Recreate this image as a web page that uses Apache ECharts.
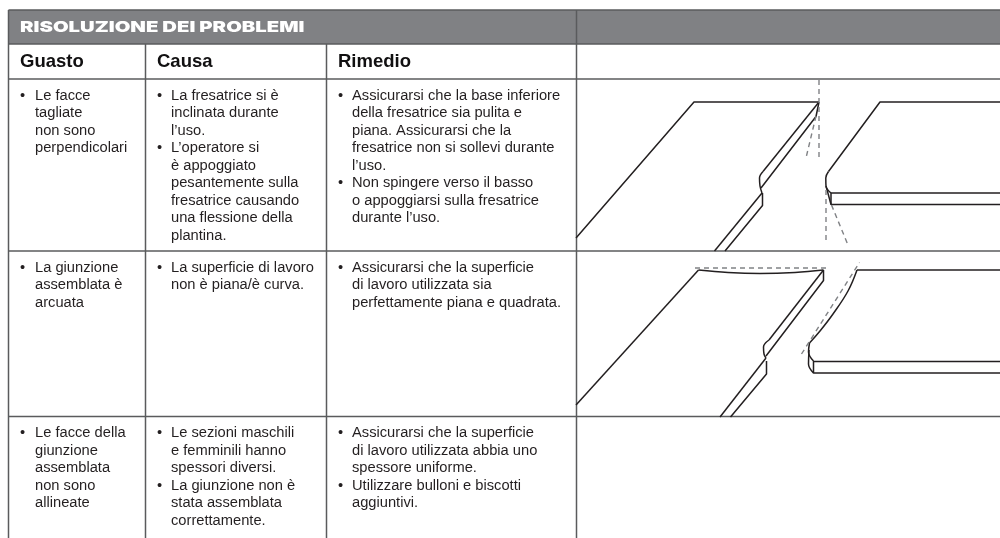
<!DOCTYPE html>
<html>
<head>
<meta charset="utf-8">
<style>
  html, body { margin: 0; padding: 0; background: #fff; }
  #main { width: 1000px; height: 538px; }
</style>
<script src="https://cdn.jsdelivr.net/npm/echarts@6/dist/echarts.min.js"></script>
</head>
<body>
<div id="main"></div>
<script>
// table text
const title = "RISOLUZIONE DEI PROBLEMI";
const headers = ["Guasto", "Causa", "Rimedio"];
const guasto = [
  ["* Le facce", "tagliate", "non sono", "perpendicolari"],
  ["* La giunzione", "assemblata è", "arcuata"],
  ["* Le facce della", "giunzione", "assemblata", "non sono", "allineate"]
];
const causa = [
  ["* La fresatrice si è", "inclinata durante", "l’uso.", "* L’operatore si", "è appoggiato", "pesantemente sulla", "fresatrice causando", "una flessione della", "plantina."],
  ["* La superficie di lavoro", "non è piana/è curva."],
  ["* Le sezioni maschili", "e femminili hanno", "spessori diversi.", "* La giunzione non è", "stata assemblata", "correttamente."]
];
const rimedio = [
  ["* Assicurarsi che la base inferiore", "della fresatrice sia pulita e", "piana. Assicurarsi che la", "fresatrice non si sollevi durante", "l’uso.", "* Non spingere verso il basso", "o appoggiarsi sulla fresatrice", "durante l’uso."],
  ["* Assicurarsi che la superficie", "di lavoro utilizzata sia", "perfettamente piana e quadrata."],
  ["* Assicurarsi che la superficie", "di lavoro utilizzata abbia uno", "spessore uniforme.", "* Utilizzare bulloni e biscotti", "aggiuntivi."]
];

// table geometry
const columnEdges = [8.5, 145.5, 326.5, 576.5];
const rowEdges = [10, 44, 79, 251, 416.5];
const pageEdges = [1000, 538];

// diagram 1, top row
const d1LeftFace = [[576, 238], [694, 102], [819, 102]];
const d1LeftEdgeA = [[819, 102], [763, 171.5]];
const d1LeftCurveA = [[763, 171.5], [759.5, 178], [760, 186], [762, 193]];
const d1LeftEdgeB = [[762, 193], [714.5, 251]];
const d1LeftEdgeC = [[819, 102], [816, 116.5], [761, 188]];
const d1LeftEdgeD = [[762.5, 193], [762.5, 205.5], [725, 251]];
const d1RightFace = [[1000, 102], [880, 102], [828.5, 171.5]];
const d1RightCurve = [[828.5, 171.5], [825.8, 178], [826, 186], [831, 193]];
const d1RightLip = [[1000, 193], [831, 193], [831, 204.5], [1000, 204.5]];
const d1RightLipSide = [[826, 186], [831, 204.5]];
const d1GuideA = [[819, 80], [819, 159]];
const d1GuideB = [[816, 116], [806, 158]];
const d1GuideC = [[826, 190], [826, 244]];
const d1GuideD = [[831.5, 205], [848, 245]];

// diagram 2, middle row
const d2LeftFace = [[576, 405], [698.5, 270]];
const d2LeftBow = [[698.5, 270], [728, 272.5], [760, 273.5], [795, 272.5], [823.5, 270]];
const d2LeftEdgeA = [[823.5, 270], [769, 340]];
const d2LeftCurveA = [[769, 340], [763.5, 347], [764, 354], [766, 358]];
const d2LeftEdgeB = [[766, 358], [720, 417]];
const d2LeftEdgeC = [[823.5, 270], [823.5, 280.5], [766, 356]];
const d2LeftEdgeD = [[766.5, 361], [766.5, 374], [730.5, 417]];
const d2RightFace = [[1000, 270], [857, 270]];
const d2RightCurve = [[857, 270], [848, 291], [833, 314], [820, 331], [809.5, 343]];
const d2RightSide = [[809.5, 343], [808.5, 352], [813.5, 361]];
const d2RightLip = [[1000, 361.5], [813.5, 361.5], [813.5, 373], [1000, 373]];
const d2RightLipSide = [[809, 350], [808.5, 364], [813.5, 373]];
const d2GuideA = [[695, 268], [827, 268]];
const d2GuideB = [[801.5, 354], [859.5, 262.5]];

const solidLines = [d1LeftFace, d1LeftEdgeA, d1LeftEdgeB, d1LeftEdgeC, d1LeftEdgeD, d1RightFace, d1RightLip, d1RightLipSide,
  d2LeftFace, d2LeftEdgeA, d2LeftEdgeB, d2LeftEdgeC, d2LeftEdgeD, d2RightFace, d2RightLip];
const curvedLines = [d1LeftCurveA, d1RightCurve, d2LeftBow, d2LeftCurveA, d2RightCurve, d2RightSide, d2RightLipSide];
const guideLines = [d1GuideA, d1GuideB, d1GuideC, d1GuideD, d2GuideA, d2GuideB];

const lineGap = 17.55;
const bodyFont = '"Liberation Sans", Arial, sans-serif';

// one label point per text line
function cellPoints(cells, col) {
  const textPts = [], bulletPts = [];
  cells.forEach((lines, r) => {
    lines.forEach((line, i) => {
      const y = rowEdges[r + 2] + 16.5 + i * lineGap;
      const isBullet = line.startsWith("* ");
      if (isBullet) bulletPts.push({ value: [columnEdges[col] + 11.5, y], text: "•" });
      textPts.push({ value: [columnEdges[col] + (col == 0 ? 26.5 : 25.5), y], text: isBullet ? line.slice(2) : line });
    });
  });
  return { textPts, bulletPts };
}

function textSeries(data, font) {
  return {
    type: "scatter",
    data: data,
    symbolSize: 0,
    silent: true,
    // scatter defaults to 0.8, which greys the labels too
    itemStyle: { opacity: 1 },
    label: Object.assign({
      show: true,
      position: "right",
      distance: 0,
      formatter: p => p.data.text
    }, font)
  };
}

function lineSeries(points, style, smooth) {
  return {
    type: "line",
    data: points,
    showSymbol: false,
    silent: true,
    smooth: smooth ? 0.4 : false,
    lineStyle: style
  };
}

// band plus rules, only through the axis scale
const bandData = [[columnEdges[0], rowEdges[0], pageEdges[0], rowEdges[1]]];
const ruleData = [
  [columnEdges[0], rowEdges[0], pageEdges[0], rowEdges[0]],
  [columnEdges[0], rowEdges[1], pageEdges[0], rowEdges[1]],
  [columnEdges[0], rowEdges[2], pageEdges[0], rowEdges[2]],
  [columnEdges[0], rowEdges[3], pageEdges[0], rowEdges[3]],
  [columnEdges[0], rowEdges[4], pageEdges[0], rowEdges[4]],
  [columnEdges[0], rowEdges[0], columnEdges[0], pageEdges[1]],
  [columnEdges[1], rowEdges[1], columnEdges[1], pageEdges[1]],
  [columnEdges[2], rowEdges[1], columnEdges[2], pageEdges[1]],
  [columnEdges[3], rowEdges[0], columnEdges[3], pageEdges[1]]
];

const body = [cellPoints(guasto, 0), cellPoints(causa, 1), cellPoints(rimedio, 2)];
const bodyLabel = { fontFamily: bodyFont, fontSize: 14.7, color: "#231f20" };
const bulletLabel = { fontFamily: bodyFont, fontSize: 14.7, color: "#231f20", align: "left" };

const series = [
  {
    type: "custom",
    data: bandData,
    silent: true,
    renderItem: (params, api) => {
      const a = api.coord([api.value(0), api.value(1)]);
      const b = api.coord([api.value(2), api.value(3)]);
      return {
        type: "rect",
        shape: { x: a[0], y: a[1], width: b[0] - a[0], height: b[1] - a[1] },
        style: { fill: "#808184" }
      };
    }
  },
  {
    type: "custom",
    data: ruleData,
    silent: true,
    renderItem: (params, api) => {
      const a = api.coord([api.value(0), api.value(1)]);
      const b = api.coord([api.value(2), api.value(3)]);
      return {
        type: "line",
        shape: { x1: a[0], y1: a[1], x2: b[0], y2: b[1] },
        style: { stroke: "#5a5b5d", lineWidth: 1.5 }
      };
    }
  }
];

solidLines.forEach(p => series.push(lineSeries(p, { color: "#231f20", width: 1.5 }, false)));
curvedLines.forEach(p => series.push(lineSeries(p, { color: "#231f20", width: 1.5 }, true)));
guideLines.forEach(p => series.push(lineSeries(p, { color: "#808285", width: 1.4, type: [5, 4] }, false)));

// the title face is an extended black, so stretch Inter sideways
series.push({
  type: "custom",
  data: [[columnEdges[0] + 11.5, 27]],
  silent: true,
  renderItem: (params, api) => {
    const p = api.coord([api.value(0), api.value(1)]);
    return {
      type: "text",
      x: p[0],
      y: p[1],
      scaleX: 1.35,
      style: {
        text: title,
        fill: "#ffffff",
        font: '900 15px Inter, sans-serif',
        textAlign: "left",
        textVerticalAlign: "middle"
      }
    };
  }
});
series.push(textSeries(headers.map((h, i) => ({ value: [columnEdges[i] + 11.5, 61.5], text: h })), {
  fontFamily: bodyFont, fontSize: 18.5, fontWeight: "bold", color: "#111011"
}));
body.forEach(b => {
  series.push(textSeries(b.textPts, bodyLabel));
  series.push(textSeries(b.bulletPts, bulletLabel));
});

const chart = echarts.init(document.getElementById("main"));
chart.setOption({
  animation: false,
  backgroundColor: "#ffffff",
  grid: { left: 0, right: 0, top: 0, bottom: 0 },
  xAxis: { type: "value", min: 0, max: pageEdges[0], show: false },
  yAxis: { type: "value", min: 0, max: pageEdges[1], inverse: true, show: false },
  series: series
});
</script>
</body>
</html>
